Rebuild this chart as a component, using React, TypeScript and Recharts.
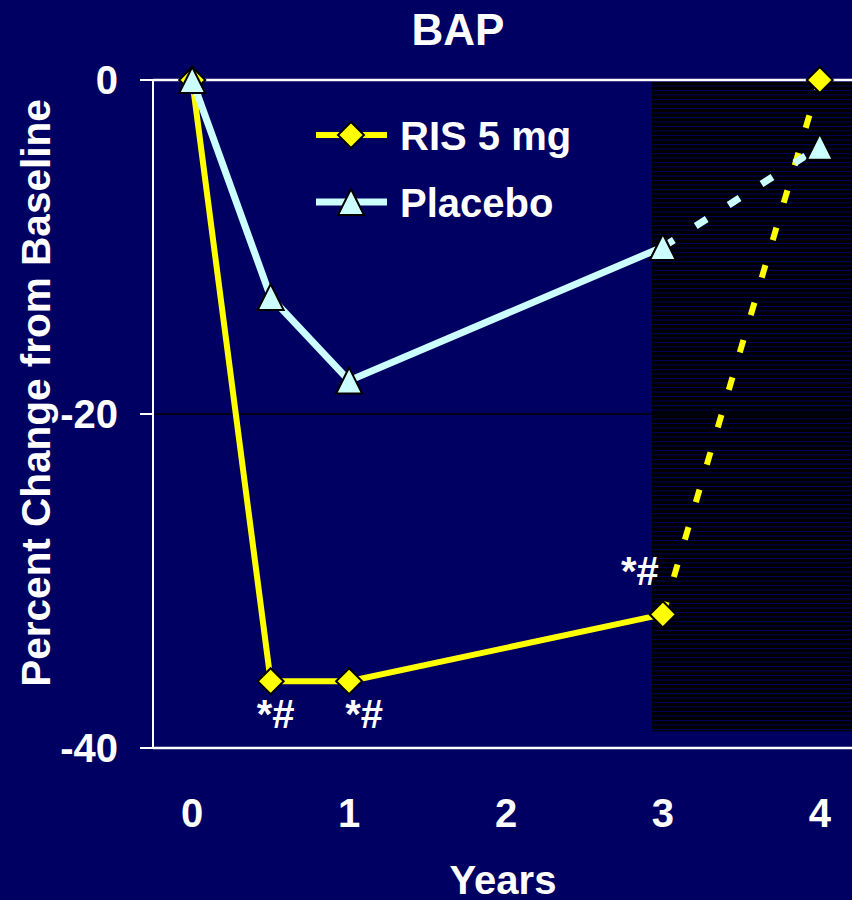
import {
  LineChart,
  Line,
  XAxis,
  YAxis,
  ReferenceLine,
  ReferenceArea,
  Legend,
  LabelList,
} from "recharts";

// BAP percent change from baseline, risedronate 5 mg vs placebo.
// Years 3-4 (open-label extension) are drawn dashed over a shaded band.

const years = [0, 0.5, 1, 3, 4];
const risValues = [0, -36, -36, -32, 0];
const placeboValues = [0, -13, -18, -10, -4];
const risNotes = ["", "*#", "*#", "*#", ""];
const xTicks = [0, 1, 2, 3, 4];
const yTicks = [-40, -20, 0];
const seriesNames = ["RIS 5 mg", "Placebo"];
const extensionFrom = 2.93;
const shadeBottom = -39;

const NAVY = "#000062";
const YELLOW = "#FFFF00";
const CYAN = "#CCFFFF";
const FONT = '"Liberation Sans", Arial, sans-serif';

const risRows = years.map((x, i) => ({ x, y: risValues[i], note: risNotes[i] }));
const placeboRows = years.map((x, i) => ({ x, y: placeboValues[i] }));
const lastMeasured = 4; // rows 0..3 solid, 3..4 dashed

// where the "*#" sits relative to its point, by row index
const noteOffset: Record<number, [number, number]> = {
  1: [5, 47],
  2: [15, 47],
  3: [-23, -29],
};

function Diamond({ cx, cy }: { cx: number; cy: number }) {
  const r = 13;
  return (
    <polygon
      points={`${cx},${cy - r} ${cx + r},${cy} ${cx},${cy + r} ${cx - r},${cy}`}
      fill={YELLOW}
      stroke="#000"
      strokeWidth={2}
    />
  );
}

function Triangle({ cx, cy }: { cx: number; cy: number }) {
  const r = 13;
  return (
    <polygon
      points={`${cx},${cy - r} ${cx + r},${cy + r} ${cx - r},${cy + r}`}
      fill={CYAN}
      stroke="#000"
      strokeWidth={2}
    />
  );
}

function NoteLabel(props: any) {
  const { x, y, value, index } = props;
  if (!value) return null;
  const [dx, dy] = noteOffset[index] ?? [0, 40];
  return (
    <text
      x={x + dx}
      y={y + dy}
      textAnchor="middle"
      fill="#fff"
      fontSize={40}
      fontWeight={700}
      fontFamily={FONT}
    >
      {value}
    </text>
  );
}

function XTick(props: any) {
  const { x, y, payload } = props;
  return (
    <text
      x={x}
      y={y + 79}
      textAnchor="middle"
      fill="#fff"
      fontSize={40}
      fontWeight={700}
      fontFamily={FONT}
    >
      {payload.value}
    </text>
  );
}

function Hatch(props: any) {
  const { x, y, width, height } = props;
  return (
    <g>
      <defs>
        <pattern id="hatch" width={8} height={4.5} patternUnits="userSpaceOnUse">
          <rect width={8} height={4.5} fill="#000" />
          <rect width={8} height={1} fill={NAVY} />
        </pattern>
      </defs>
      <rect x={x} y={y} width={width} height={height} fill="url(#hatch)" />
    </g>
  );
}

function LegendBox() {
  const rows = [
    { name: seriesNames[0], color: YELLOW, Marker: Diamond, y: 35, w: 6 },
    { name: seriesNames[1], color: CYAN, Marker: Triangle, y: 102, w: 7 },
  ];
  return (
    <svg width={300} height={140}>
      {rows.map(({ name, color, Marker, y, w }) => (
        <g key={name}>
          <line x1={16} x2={87} y1={y} y2={y} stroke={color} strokeWidth={w} />
          <Marker cx={51} cy={y} />
          <text
            x={100}
            y={y + 15}
            fill="#fff"
            fontSize={40}
            fontWeight={700}
            fontFamily={FONT}
          >
            {name}
          </text>
        </g>
      ))}
    </svg>
  );
}

export default function App() {
  return (
    <div
      style={{
        position: "absolute",
        left: 0,
        top: 0,
        width: 852,
        height: 900,
        overflow: "hidden",
        background: NAVY,
        fontFamily: FONT,
      }}
    >
      <div
        style={{
          position: "absolute",
          left: 0,
          width: 916,
          top: 2,
          textAlign: "center",
          color: "#fff",
          fontSize: 44,
          fontWeight: 700,
          lineHeight: "56px",
        }}
      >
        BAP
      </div>
      <LineChart
        width={862}
        height={900}
        margin={{ top: 80, right: 3, bottom: 0, left: 0 }}
        style={{ position: "absolute", left: 0, top: 0 }}
      >
        <XAxis
          type="number"
          dataKey="x"
          domain={[-0.25, 4.25]}
          ticks={xTicks}
          height={152}
          axisLine={false}
          tickLine={false}
          tickSize={0}
          tickMargin={0}
          tick={<XTick />}
          label={{
            value: "Years",
            content: (p: any) => (
              <text
                x={p.viewBox.x + p.viewBox.width / 2 - 3}
                y={p.viewBox.y + 146}
                textAnchor="middle"
                fill="#fff"
                fontSize={40}
                fontWeight={700}
                fontFamily={FONT}
              >
                Years
              </text>
            ),
          }}
        />
        <YAxis
          type="number"
          domain={[-40, 0]}
          ticks={yTicks}
          width={153}
          axisLine={{ stroke: "#fff", strokeWidth: 2 }}
          tickLine={{ stroke: "#fff", strokeWidth: 2 }}
          tickSize={13}
          tickMargin={22}
          tick={{ fill: "#fff", fontSize: 40, fontWeight: 700, fontFamily: FONT }}
          label={{
            value: "Percent Change from Baseline",
            content: () => (
              <text
                x={50}
                y={393}
                transform="rotate(-90, 50, 393)"
                textAnchor="middle"
                fill="#fff"
                fontSize={40.5}
                fontWeight={700}
                fontFamily={FONT}
              >
                Percent Change from Baseline
              </text>
            ),
          }}
        />
        <ReferenceArea
          x1={extensionFrom}
          x2={4.25}
          y1={shadeBottom}
          y2={0}
          shape={<Hatch />}
          zIndex={0}
        />
        <ReferenceLine y={-20} stroke="#000" strokeWidth={1.5} zIndex={1} />
        <ReferenceLine y={0} stroke="#fff" strokeWidth={2.5} zIndex={1} />
        <ReferenceLine y={-40} stroke="#fff" strokeWidth={2.5} zIndex={1} />

        <Line
          data={risRows.slice(0, lastMeasured)}
          dataKey="y"
          name={seriesNames[0]}
          stroke={YELLOW}
          strokeWidth={6}
          dot={(p: any) => <Diamond key={`rd${p.index}`} cx={p.cx} cy={p.cy} />}
          isAnimationActive={false}
        >
          <LabelList dataKey="note" content={<NoteLabel />} />
        </Line>
        <Line
          data={risRows.slice(lastMeasured - 1)}
          dataKey="y"
          legendType="none"
          stroke={YELLOW}
          strokeWidth={6}
          strokeDasharray="13 26"
          dot={(p: any) => <Diamond key={`re${p.index}`} cx={p.cx} cy={p.cy} />}
          isAnimationActive={false}
        />
        <Line
          data={placeboRows.slice(0, lastMeasured)}
          dataKey="y"
          name={seriesNames[1]}
          stroke={CYAN}
          strokeWidth={7}
          dot={(p: any) => <Triangle key={`pd${p.index}`} cx={p.cx} cy={p.cy} />}
          isAnimationActive={false}
        />
        <Line
          data={placeboRows.slice(lastMeasured - 1)}
          dataKey="y"
          legendType="none"
          stroke={CYAN}
          strokeWidth={7}
          strokeDasharray="13 26"
          dot={(p: any) => <Triangle key={`pe${p.index}`} cx={p.cx} cy={p.cy} />}
          isAnimationActive={false}
        />
        <Legend
          layout="horizontal"
          verticalAlign="middle"
          align="center"
          content={<LegendBox />}
          wrapperStyle={{ left: 300, top: 100, width: 300, height: 140 }}
        />
      </LineChart>
    </div>
  );
}
